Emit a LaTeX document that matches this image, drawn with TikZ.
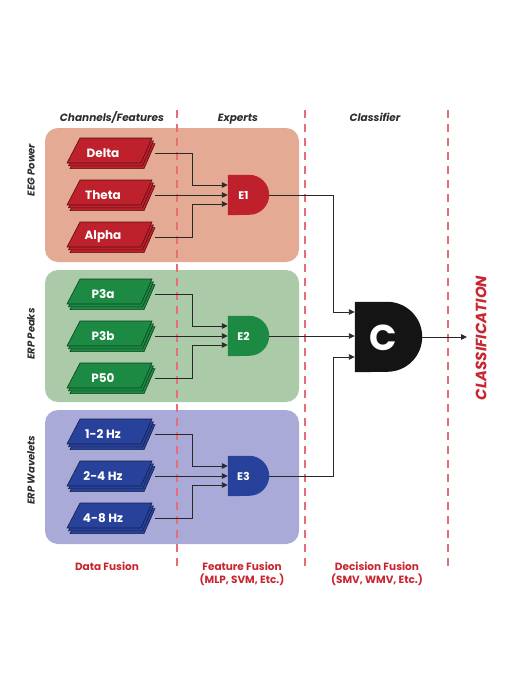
\documentclass[tikz,border=0pt]{standalone}
\usepackage{fontspec}
\setmainfont{Poppins}
\usetikzlibrary{arrows.meta,calc}
\definecolor{panR}{RGB}{228,170,148}
\definecolor{panG}{RGB}{170,202,168}
\definecolor{panB}{RGB}{170,170,216}
\definecolor{fillR}{RGB}{190,32,44}
\definecolor{fillG}{RGB}{28,138,66}
\definecolor{fillB}{RGB}{40,66,155}
\definecolor{dashC}{RGB}{230,110,118}
\definecolor{labR}{RGB}{200,38,48}
\definecolor{headC}{RGB}{45,45,45}
\definecolor{lineC}{RGB}{40,40,40}
\tikzset{
  panel/.style={rounded corners=13pt},
  chlabel/.style={minimum width=104pt, minimum height=30pt, inner sep=0pt, text=white, font=\bfseries\fontsize{12}{14}\selectfont},
  gate/.style={minimum width=41pt, minimum height=40pt, inner sep=0pt, text=white, font=\bfseries\fontsize{11}{13}\selectfont},
  conn/.style={draw=lineC, line width=0.9pt},
  arr/.style={conn, -{Triangle[length=6pt,width=5.5pt]}},
  sep/.style={draw=dashC, line width=2.3pt, dash pattern=on 8pt off 6pt},
  head/.style={text=headC, font=\itshape\bfseries\fontsize{10.5}{12}\selectfont, anchor=base},
  side/.style={text=headC, font=\itshape\bfseries\fontsize{10}{12}\selectfont, rotate=90},
  foot/.style={text=labR, font=\bfseries\fontsize{10.5}{13}\selectfont, align=center},
}
% stacked parallelograms behind a named label node
\newcommand\chstack[5]{%
  \node[chlabel] (#1) at (#2,#3) {};
  \foreach \d in {2,1,0}{%
    \filldraw[fill=#5, draw=#5!45!black, line width=0.6pt]
      ([shift={(-23+1.5*\d,15-2.8*\d)}]#1.center) -- ([shift={(49+1.5*\d,15-2.8*\d)}]#1.center)
      -- ([shift={(38+1.5*\d,-10-2.8*\d)}]#1.center) -- ([shift={(-36+1.5*\d,-10-2.8*\d)}]#1.center) -- cycle;
  }
  \node[chlabel] at (#1.center) {#4};
}
\newcommand\drawgate[3]{% node name, color, radius
  \fill[#2] (#1.south west) -- (#1.north west) -- ([xshift=-#3]#1.north east)
    arc[start angle=90, end angle=-90, radius=#3] -- cycle;
}
\begin{document}
\begin{tikzpicture}[x=1pt,y=1pt]
\useasboundingbox (0,0) rectangle (508,-696);
\fill[white] (0,0) rectangle (508,-696);
% panels
\fill[panR, panel] (45,-128) rectangle (299,-262);
\fill[panG, panel] (45,-270) rectangle (299,-402);
\fill[panB, panel] (45,-410) rectangle (299,-544);
% separators
\draw[sep] (177,-110) -- (177,-566);
\draw[sep] (305,-110) -- (305,-566);
\draw[sep] (448,-110) -- (448,-566);
% headers
\node[head] (h1) at (112,-121) {Channels/Features};
\node[head] (h2) at (238,-121) {Experts};
\node[head] (h3) at (375,-121) {Classifier};
% side labels
\node[side] (s1) at (31,-170) {EEG Power};
\node[side] (s2) at (31,-334) {ERP Peaks};
\node[side] (s3) at (31,-470) {ERP Wavelets};
% stacks
\chstack{d1}{103}{-153}{Delta}{fillR}
\chstack{d2}{103}{-195}{Theta}{fillR}
\chstack{d3}{103}{-237}{Alpha}{fillR}
\chstack{p1}{103}{-294}{P3a}{fillG}
\chstack{p2}{103}{-336}{P3b}{fillG}
\chstack{p3}{103}{-378}{P50}{fillG}
\chstack{w1}{103}{-434}{1-2 Hz}{fillB}
\chstack{w2}{103}{-476}{2-4 Hz}{fillB}
\chstack{w3}{103}{-518}{4-8 Hz}{fillB}
% gates
\node[gate] (E1) at (248.5,-195) {};
\node[gate] (E2) at (248.5,-336) {};
\node[gate] (E3) at (248.5,-476) {};
\drawgate{E1}{fillR}{20pt}
\drawgate{E2}{fillG}{20pt}
\drawgate{E3}{fillB}{20pt}
\node[gate] at ([xshift=-5pt]E1.center) {E1};
\node[gate] at ([xshift=-5pt]E2.center) {E2};
\node[gate] at ([xshift=-5pt]E3.center) {E3};
\node[minimum width=67pt, minimum height=70pt, inner sep=0pt] (C) at (388.5,-337) {};
\drawgate{C}{black!92}{35pt}
\node[text=white, font=\bfseries\fontsize{36}{38}\selectfont] at ([xshift=-5pt,yshift=-1pt]C.center) {C};
% expert inputs
\foreach \a/\b/\c/\g in {d1/d2/d3/E1, p1/p2/p3/E2, w1/w2/w3/E3}{
  \draw[arr] (\a.east) -| ($(\a.east)+(37,0)$) |- ([yshift=10pt]\g.west);
  \draw[arr] (\b.east) -- (\b.east -| \g.west);
  \draw[arr] (\c.east) -| ($(\c.east)+(37,0)$) |- ([yshift=-9pt]\g.west);
}
% classifier inputs
\draw[arr] (E1.east) -| ($(E1.east)+(64,0)$) |- ([yshift=25pt]C.west);
\draw[arr] (E2.east) -- (E2.east -| C.west);
\draw[arr] (E3.east) -| ($(E3.east)+(64,0)$) |- ([yshift=-20pt]C.west);
% output
\coordinate (out) at (467,-337);
\draw[arr] (C.east) -- (out);
\node[text=labR, font=\itshape\bfseries\fontsize{15}{17}\selectfont, rotate=90] (cls) at (481,-338) {CLASSIFICATION};
% footers
\node[foot] (f1) at (107,-566) {Data Fusion};
\node[foot] (f2) at (242,-574) {Feature Fusion\\(MLP, SVM, Etc.)};
\node[foot] (f3) at (377,-574) {Decision Fusion\\(SMV, WMV, Etc.)};
\end{tikzpicture}
\end{document}
